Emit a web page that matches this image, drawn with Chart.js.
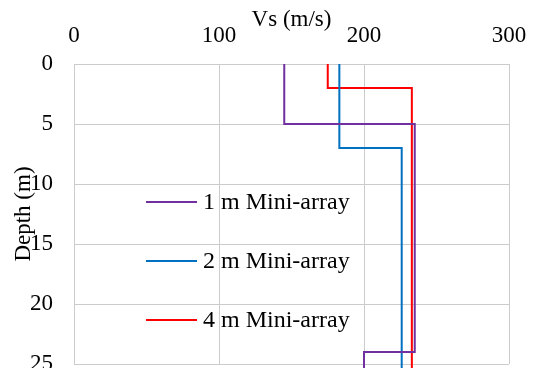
<!DOCTYPE html>
<html>
<head>
<meta charset="utf-8">
<script src="https://cdn.jsdelivr.net/npm/chart.js@4.4.1/dist/chart.umd.min.js"></script>
<style>
  html, body { margin: 0; padding: 0; overflow: hidden; background: #fff; }
  #wrap { width: 533px; height: 382px; position: relative; }
</style>
</head>
<body>
<div id="wrap"><canvas id="c"></canvas></div>
<script>
// ---- data ----
const seriesLabels = ['1 m Mini-array', '2 m Mini-array', '4 m Mini-array'];
const vs1 =    [145, 145, 235, 235, 200, 200];
const depth1 = [0,   5,   5,   24,  24,  30];
const vs2 =    [183, 183, 226, 226];
const depth2 = [0,   7,   7,   30];
const vs4 =    [175, 175, 233, 233];
const depth4 = [0,   2,   2,   30];
const xTicks = [0, 100, 200, 300];
const yTicks = [0, 5, 10, 15, 20, 25];
const xTitle = 'Vs (m/s)';
const yTitle = 'Depth (m)';

const colors = ['#7030A0', '#0070C0', '#FF0000'];
const FONT = "'Liberation Serif', 'Times New Roman', serif";
const FS = 23;

function pts(xs, ys) { return xs.map((x, i) => ({x: x, y: ys[i]})); }

const legendPlugin = {
  id: 'insideLegend',
  afterDatasetsDraw(chart) {
    const ctx = chart.ctx;
    const ys = [202, 261, 320];
    ctx.save();
    chart.data.datasets.forEach((ds, i) => {
      const y = ys[i];
      ctx.strokeStyle = ds.borderColor;
      ctx.lineWidth = 2;
      ctx.beginPath();
      ctx.moveTo(146, y);
      ctx.lineTo(197, y);
      ctx.stroke();
      ctx.fillStyle = '#000';
      ctx.font = '24px ' + FONT;
      ctx.textBaseline = 'middle';
      ctx.textAlign = 'left';
      ctx.fillText(ds.label, 203, y + 1);
    });
    ctx.restore();
  }
};

const gridColor = '#CCCCCC';

new Chart(document.getElementById('c'), {
  type: 'scatter',
  data: {
    datasets: [
      {label: seriesLabels[0], data: pts(vs1, depth1), borderColor: colors[0], backgroundColor: colors[0]},
      {label: seriesLabels[1], data: pts(vs2, depth2), borderColor: colors[1], backgroundColor: colors[1]},
      {label: seriesLabels[2], data: pts(vs4, depth4), borderColor: colors[2], backgroundColor: colors[2]}
    ].map(d => Object.assign(d, {showLine: true, borderWidth: 2, pointRadius: 0, pointHoverRadius: 0, clip: false, tension: 0}))
  },
  options: {
    responsive: true,
    maintainAspectRatio: false,
    animation: false,
    layout: { padding: { left: 0, right: 24, top: 0, bottom: 18 } },
    plugins: { legend: { display: false }, tooltip: { enabled: false } },
    scales: {
      x: {
        type: 'linear',
        position: 'top',
        min: 0, max: 300,
        afterBuildTicks(s) { s.ticks = xTicks.map(v => ({value: v})); },
        afterFit(s) { s.height = 64; s.paddingLeft = 0; s.paddingRight = 0; },
        ticks: { color: '#000', padding: 14, font: { family: FONT, size: FS } },
        grid: { color: gridColor, lineWidth: 1, drawTicks: false },
        border: { color: gridColor, width: 1 },
        title: { display: true, text: xTitle, color: '#000', padding: { top: 6, bottom: 0 }, font: { family: FONT, size: FS } }
      },
      y: {
        type: 'linear',
        reverse: true,
        min: 0, max: 25,
        afterBuildTicks(s) { s.ticks = yTicks.map(v => ({value: v})); },
        afterFit(s) { s.width = 74; s.paddingTop = 0; s.paddingBottom = 0; },
        ticks: { color: '#000', padding: 21, font: { family: FONT, size: FS } },
        grid: { color: gridColor, lineWidth: 1, drawTicks: false },
        border: { color: gridColor, width: 1 },
        title: { display: true, text: yTitle, color: '#000', padding: { top: 10, bottom: 0 }, font: { family: FONT, size: FS } }
      }
    }
  },
  plugins: [legendPlugin]
});
</script>
</body>
</html>
